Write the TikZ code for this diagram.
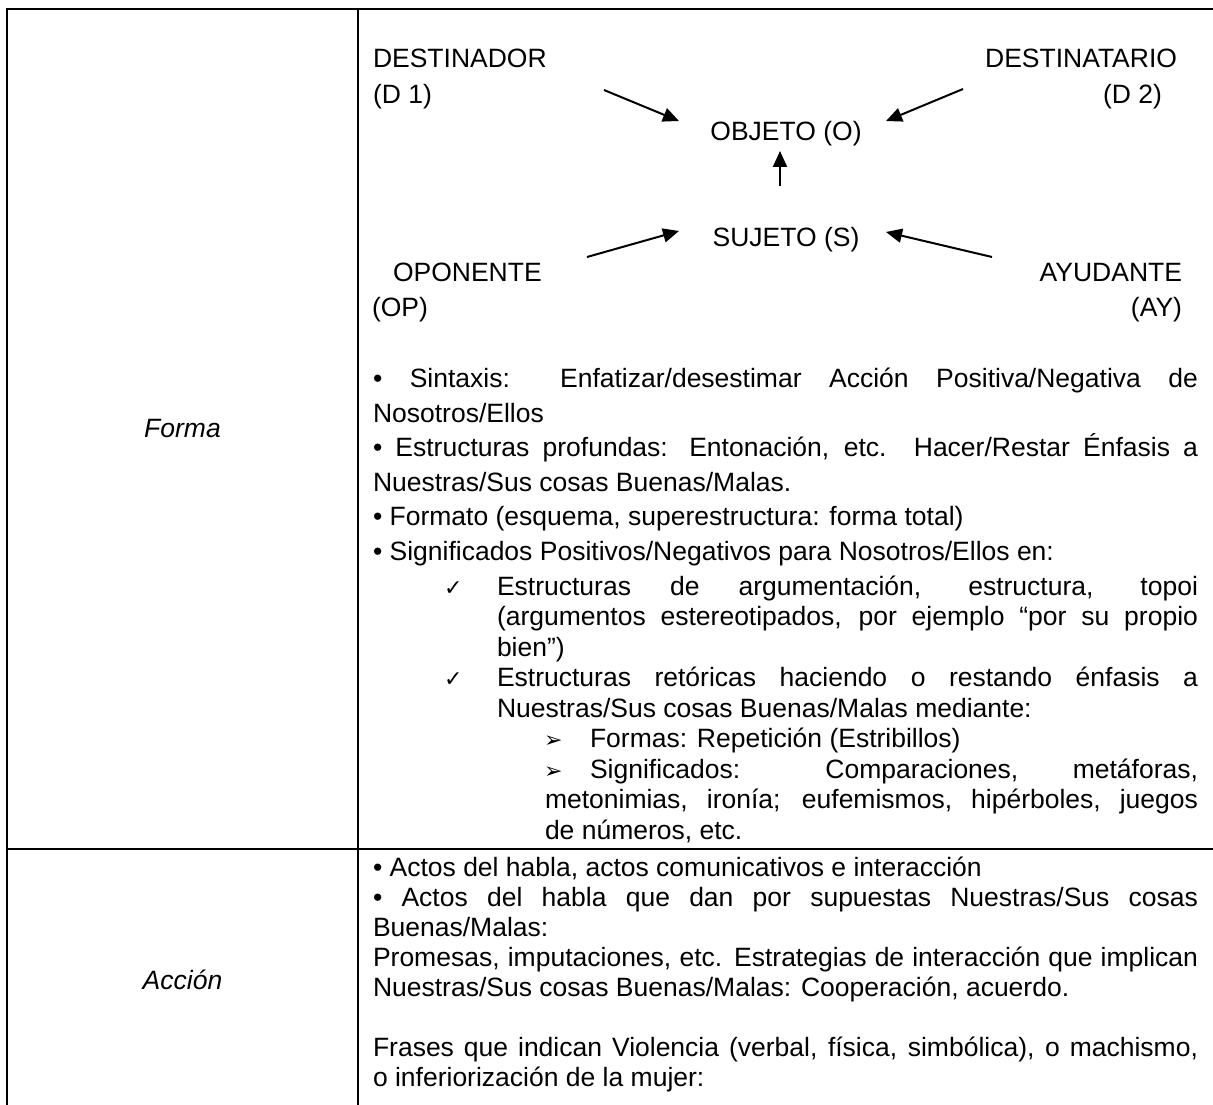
\documentclass[tikz,border=0pt]{standalone}
\usepackage{fontspec}
\setmainfont{Liberation Sans}
\newfontfamily\dejavufam{DejaVu Sans}
\usetikzlibrary{arrows.meta}
\tikzset{
  grid/.style={line width=1.8pt},
  txt/.style={inner sep=0pt, outer sep=0pt, anchor=base west, font=\fontsize{26.5}{30}\selectfont},
  rtxt/.style={txt, anchor=base east},
  ctxt/.style={txt, anchor=base},
  head/.style={inner sep=0pt, outer sep=0pt, anchor=center, font=\fontsize{26.5}{30}\selectfont\itshape},
  arr/.style={line width=2pt, -{Triangle[length=16pt,width=14pt]}},
  chkbox/.style={inner sep=0pt, outer sep=0pt, anchor=base west, font=\fontsize{22}{26}\selectfont\dejavufam},
}
\newcommand\jline[2]{\makebox[#1pt][s]{#2}}
\begin{document}
\begin{tikzpicture}[x=1pt,y=-1pt]
\useasboundingbox (0,0) rectangle (1213,1105);
% table rules
\draw[grid] (7,1105) -- (7,9) -- (1213,9);
\draw[grid] (358,9) -- (358,1105);
\draw[grid] (7,849) -- (1213,849);
% left column
\node[head] (forma) at (182.5,429) {Forma};
\node[head] (accion) at (182.5,980) {Acción};
% actantial diagram
\node[txt] (dest) at (373,68) {DESTINADOR};
\node[txt] (destp) at (373,104) {(D 1)};
\node[rtxt] (destr) at (1177,68) {DESTINATARIO};
\node[rtxt] (destrp) at (1162,104) {(D 2)};
\node[ctxt] (obj) at (786,141) {OBJETO (O)};
\node[ctxt] (suj) at (786,246) {SUJETO (S)};
\node[txt] (opo) at (393,281) {OPONENTE};
\node[txt] (opop) at (372,316) {(OP)};
\node[rtxt] (ayu) at (1182,281) {AYUDANTE};
\node[rtxt] (ayup) at (1182,316) {(AY)};
\coordinate (a1s) at (604,90);  \coordinate (a1e) at (679,121);
\coordinate (a2s) at (963,89);  \coordinate (a2e) at (886,121);
\coordinate (a3s) at (780,186); \coordinate (a3e) at (780,151);
\coordinate (a4s) at (587,257); \coordinate (a4e) at (679,231);
\coordinate (a5s) at (992,257); \coordinate (a5e) at (886,232);
\draw[arr] (a1s) -- (a1e);
\draw[arr] (a2s) -- (a2e);
\draw[arr] (a3s) -- (a3e);
\draw[arr] (a4s) -- (a4e);
\draw[arr] (a5s) -- (a5e);
% row 1 text
\node[txt] (l1) at (373,387) {\jline{825}{• Sintaxis: Enfatizar/desestimar Acción Positiva/Negativa de}};
\node[txt] (l2) at (373,422) {Nosotros/Ellos};
\node[txt] (l3) at (373,456.5) {\jline{825}{• Estructuras profundas: Entonación, etc. Hacer/Restar Énfasis a}};
\node[txt] (l4) at (373,491) {Nuestras/Sus cosas Buenas/Malas.};
\node[txt] (l5) at (373,525.5) {• Formato (esquema, superestructura: forma total)};
\node[txt] (l6) at (373,560) {• Significados Positivos/Negativos para Nosotros/Ellos en:};
\node[chkbox] (c1) at (444,595) {✓};
\node[txt] (l7) at (497,595) {\jline{701}{Estructuras de argumentación, estructura, topoi}};
\node[txt] (l8) at (497,625.5) {\jline{701}{(argumentos estereotipados, por ejemplo “por su propio}};
\node[txt] (l9) at (497,656) {bien”)};
\node[chkbox] (c2) at (444,686.5) {✓};
\node[txt] (l10) at (497,686.5) {\jline{701}{Estructuras retóricas haciendo o restando énfasis a}};
\node[txt] (l11) at (497,717) {Nuestras/Sus cosas Buenas/Malas mediante:};
\node[chkbox] (b1) at (544,747.5) {➢};
\node[txt] (l12) at (590,747.5) {Formas: Repetición (Estribillos)};
\node[chkbox] (b2) at (544,778) {➢};
\node[txt] (l13) at (590,778) {\jline{608}{Significados: Comparaciones, metáforas,}};
\node[txt] (l14) at (545,808.5) {\jline{653}{metonimias, ironía; eufemismos, hipérboles, juegos}};
\node[txt] (l15) at (545,839) {de números, etc.};
% row 2 text
\node[txt] (m1) at (373,876) {• Actos del habla, actos comunicativos e interacción};
\node[txt] (m2) at (373,906) {\jline{825}{• Actos del habla que dan por supuestas Nuestras/Sus cosas}};
\node[txt] (m3) at (373,936) {Buenas/Malas:};
\node[txt] (m4) at (373,966) {\jline{825}{Promesas, imputaciones, etc. Estrategias de interacción que implican}};
\node[txt] (m5) at (373,996) {Nuestras/Sus cosas Buenas/Malas: Cooperación, acuerdo.};
\node[txt] (m6) at (373,1056) {\jline{825}{Frases que indican Violencia (verbal, física, simbólica), o machismo,}};
\node[txt] (m7) at (373,1086) {o inferiorización de la mujer:};
\end{tikzpicture}
\end{document}
